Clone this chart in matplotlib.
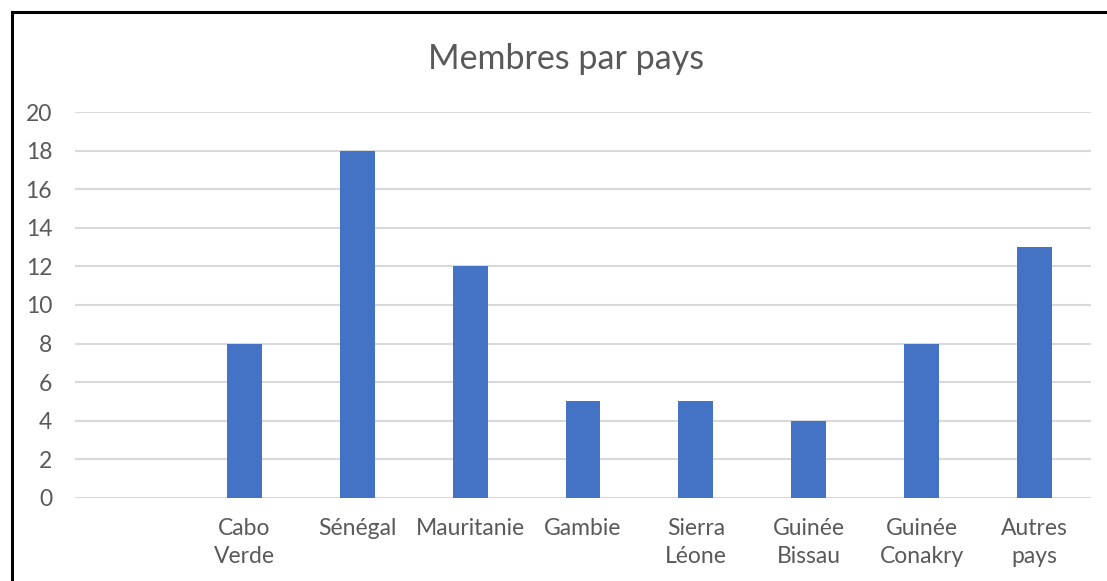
import matplotlib
matplotlib.use("Agg")
import matplotlib.pyplot as plt
from matplotlib.lines import Line2D

categories = ["", "Cabo\nVerde", "Sénégal", "Mauritanie", "Gambie", "Sierra\nLéone",
              "Guinée\nBissau", "Guinée\nConakry", "Autres\npays"]
values = [0, 8, 18, 12, 5, 5, 4, 8, 13]
yticks = [0, 2, 4, 6, 8, 10, 12, 14, 16, 18, 20]

plt.rcParams['font.family'] = ['Lato', 'DejaVu Sans']
txt = '#595959'

fig = plt.figure(figsize=(11.07, 5.81), dpi=100)
ax = fig.add_axes([0.0678, 0.1429, 0.9855 - 0.0678, 0.8072 - 0.1429])

x = list(range(len(categories)))
ax.bar(x, values, width=0.31, color='#4472C4', zorder=3)
ax.set_xlim(-0.5, len(categories) - 0.5)
ax.set_ylim(0, 20)
ax.set_yticks(yticks)
ax.set_xticks(x)
ax.set_xticklabels(categories, linespacing=1.4)
ax.grid(axis='y', color='#d9d9d9', linewidth=1.5, zorder=0)
for s in ax.spines.values():
    s.set_visible(False)
ax.tick_params(axis='both', length=0, labelsize=16.5, colors=txt)
ax.tick_params(axis='x', pad=14.5)
ax.tick_params(axis='y', pad=16.5)

fig.text(0.511, 0.898, "Membres par pays", ha='center', va='center', fontsize=24.5, color=txt)

# outer frame (left and top edges visible)
fig.add_artist(Line2D([12/1107, 12/1107], [0, 1 - 12/581], color='black', linewidth=2.2,
                      transform=fig.transFigure))
fig.add_artist(Line2D([12/1107, 1], [1 - 12/581, 1 - 12/581], color='black', linewidth=2.2,
                      transform=fig.transFigure))

fig.savefig("out.png", dpi=100)
